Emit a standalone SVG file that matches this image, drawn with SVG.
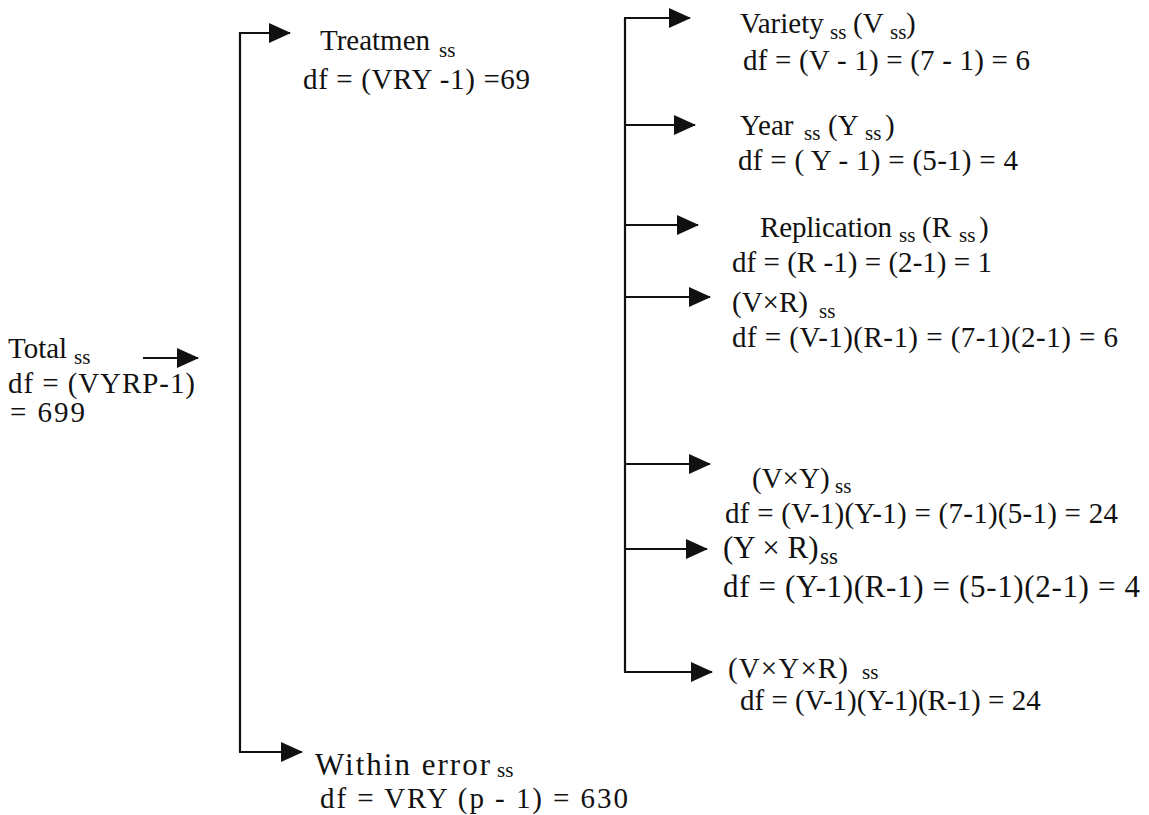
<svg xmlns="http://www.w3.org/2000/svg" width="1149" height="815" viewBox="0 0 1149 815">
<style>
.t{font-family:"Liberation Serif","Times New Roman",serif;font-size:29px;fill:#111}
.s{font-size:21px}
.ln{stroke:#111;stroke-width:2.2;fill:none}
</style>
<defs>
<marker id="ah" markerUnits="userSpaceOnUse" markerWidth="22" markerHeight="20" refX="21" refY="10" orient="auto">
<path d="M0,0 L22,10 L0,20 Z" fill="#111"/>
</marker>
</defs>
<rect width="1149" height="815" fill="#fff"/>
<g id="connectors">
<line class="ln" x1="143" y1="358" x2="198" y2="358" marker-end="url(#ah)"/>
<line class="ln" x1="240" y1="33" x2="240" y2="752"/>
<line class="ln" x1="239" y1="33" x2="290" y2="33" marker-end="url(#ah)"/>
<line class="ln" x1="239" y1="752" x2="302" y2="752" marker-end="url(#ah)"/>
<line class="ln" x1="625" y1="18" x2="625" y2="672"/>
<line class="ln" x1="624" y1="18" x2="690" y2="18" marker-end="url(#ah)"/>
<line class="ln" x1="625" y1="125" x2="695" y2="125" marker-end="url(#ah)"/>
<line class="ln" x1="625" y1="225" x2="698" y2="225" marker-end="url(#ah)"/>
<line class="ln" x1="625" y1="297" x2="710" y2="297" marker-end="url(#ah)"/>
<line class="ln" x1="625" y1="464" x2="710" y2="464" marker-end="url(#ah)"/>
<line class="ln" x1="625" y1="549" x2="707" y2="549" marker-end="url(#ah)"/>
<line class="ln" x1="624" y1="672" x2="712" y2="672" marker-end="url(#ah)"/>
</g>
<g id="total">
<text class="t" x="8" y="358">Total</text>
<text class="t s" x="74" y="364">ss</text>
<text class="t" x="8" y="393" textLength="187" lengthAdjust="spacing">df = (VYRP-1)</text>
<text class="t" x="10" y="422" textLength="75" lengthAdjust="spacing">= 699</text>
</g>
<g id="treatment">
<text class="t" x="320" y="50" textLength="110" lengthAdjust="spacing">Treatmen</text>
<text class="t s" x="439" y="57">ss</text>
<text class="t" x="303" y="89" textLength="227" lengthAdjust="spacing">df = (VRY -1) =69</text>
</g>
<g id="variety">
<text class="t" x="740" y="33">Variety</text>
<text class="t s" x="830" y="39">ss</text>
<text class="t" x="853" y="33">(V</text>
<text class="t s" x="890" y="39">ss</text>
<text class="t" x="906" y="33">)</text>
<text class="t" x="743" y="70" textLength="287" lengthAdjust="spacing">df = (V - 1) = (7 - 1) = 6</text>
</g>
<g id="year">
<text class="t" x="740" y="135">Year</text>
<text class="t s" x="804" y="140">ss</text>
<text class="t" x="828" y="135">(Y</text>
<text class="t s" x="865" y="140">ss</text>
<text class="t" x="885" y="135">)</text>
<text class="t" x="738" y="170" textLength="280" lengthAdjust="spacing">df = ( Y - 1) = (5-1) = 4</text>
</g>
<g id="replication">
<text class="t" x="760" y="237" textLength="132" lengthAdjust="spacing">Replication</text>
<text class="t s" x="899" y="242">ss</text>
<text class="t" x="922" y="237">(R</text>
<text class="t s" x="959" y="242">ss</text>
<text class="t" x="979" y="237">)</text>
<text class="t" x="732" y="272" textLength="260" lengthAdjust="spacing">df = (R -1) = (2-1) = 1</text>
</g>
<g id="vxr">
<text class="t" x="732" y="312">(V×R)</text>
<text class="t s" x="819" y="318">ss</text>
<text class="t" x="732" y="347" textLength="386" lengthAdjust="spacing">df = (V-1)(R-1) = (7-1)(2-1) = 6</text>
</g>
<g id="vxy">
<text class="t" x="752" y="488">(V×Y)</text>
<text class="t s" x="835" y="493">ss</text>
<text class="t" x="725" y="523" textLength="393" lengthAdjust="spacing">df = (V-1)(Y-1) = (7-1)(5-1) = 24</text>
</g>
<g id="yxr">
<text class="t" x="723" y="558" style="font-size:31px">(Y × R)</text>
<text class="t s" x="820" y="564" style="font-size:23px">ss</text>
<text class="t" x="723" y="597" style="font-size:31px" textLength="417" lengthAdjust="spacing">df = (Y-1)(R-1) = (5-1)(2-1) = 4</text>
</g>
<g id="vxyxr">
<text class="t" x="728" y="678" textLength="120" lengthAdjust="spacing">(V×Y×R)</text>
<text class="t s" x="862" y="679">ss</text>
<text class="t" x="740" y="710">df = (V-1)(Y-1)(R-1) = 24</text>
</g>
<g id="within">
<text class="t" x="315" y="775" style="font-size:31px" textLength="175" lengthAdjust="spacing">Within error</text>
<text class="t s" x="497" y="777">ss</text>
<text class="t" x="320" y="808" textLength="308" lengthAdjust="spacing">df = VRY (p - 1) = 630</text>
</g>
</svg>
